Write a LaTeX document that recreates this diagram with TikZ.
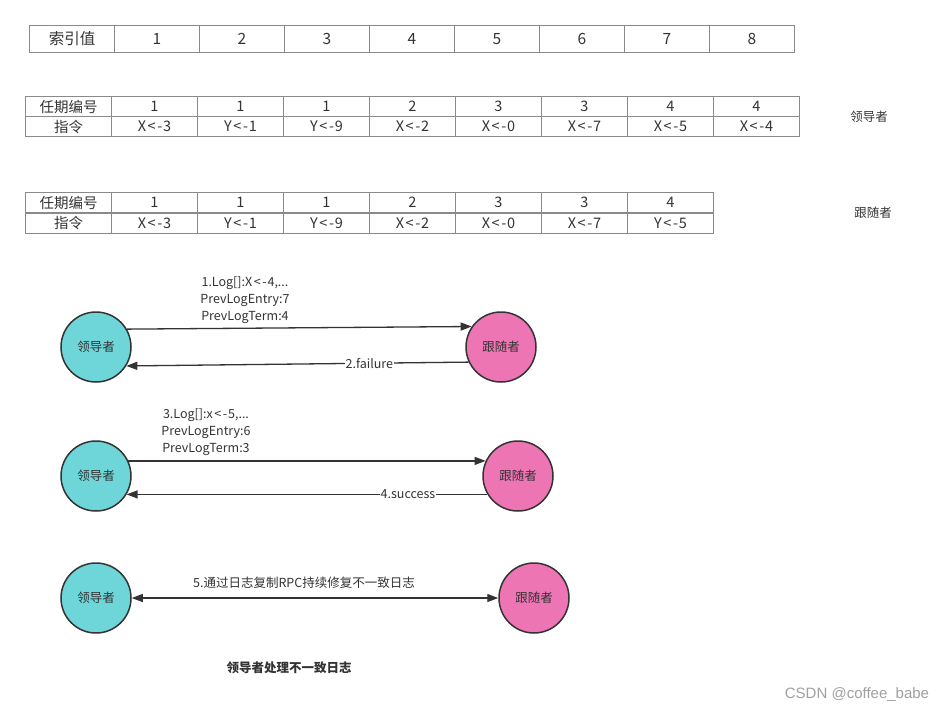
\documentclass[tikz,border=0pt]{standalone}
\usepackage{fontspec}
\setmainfont{Noto Sans CJK SC}
\newfontfamily\wmfont{Liberation Sans}
\usetikzlibrary{arrows.meta}
\definecolor{leadc}{HTML}{6ED6D8}
\definecolor{follc}{HTML}{EE75B4}
\definecolor{gridc}{HTML}{8A8A8A}
\definecolor{inkc}{HTML}{333333}
\definecolor{markc}{HTML}{A0A0A0}
\newcommand{\assign}[2]{#1\kern1.6pt<\kern1.6pt-\kern0.8pt#2}
\begin{document}
\begin{tikzpicture}[x=1pt,y=-1pt,
  cell/.style={draw=gridc, line width=1pt, inner sep=0pt, anchor=north west, text=inkc},
  idxcell/.style={cell, minimum width=85pt, minimum height=27pt, font=\fontsize{15.5}{15.5}\selectfont},
  logcell/.style={cell, minimum width=86pt, minimum height=20pt, font=\fontsize{14.5}{14.5}\selectfont},
  role/.style={circle, draw=inkc, line width=1.5pt, minimum size=70pt, inner sep=0pt, text=inkc, font=\fontsize{12.5}{12.5}\selectfont},
  leader/.style={role, fill=leadc},
  follower/.style={role, fill=follc},
  arr/.style={draw=inkc, line width=1.3pt, -{Triangle[length=11pt,width=8pt]}},
  darr/.style={draw=inkc, line width=1.3pt, {Triangle[length=11pt,width=8pt]}-{Triangle[length=11pt,width=8pt]}},
  lab/.style={text=inkc, font=\fontsize{12.5}{17}\selectfont, align=center, inner sep=1pt},
  side/.style={text=inkc, font=\fontsize{12.5}{12.5}\selectfont}
]
\useasboundingbox (0,0) rectangle (948,713);

% index table
\node[idxcell] (ih) at (29,25) {索引值};
\foreach \i in {1,...,8} {
  \node[idxcell] (i\i) at ({29+85*\i},25) {\i};
}

% leader log
\node[logcell] (lt0) at (25,96) {任期编号};
\node[logcell] (lc0) at (25,116) {指令};
\foreach \t [count=\i] in {1,1,1,2,3,3,4,4} {
  \node[logcell] (lt\i) at ({25+86*\i},96) {\t};
}
\foreach \v/\n [count=\i] in {X/3,Y/1,Y/9,X/2,X/0,X/7,X/5,X/4} {
  \node[logcell] (lc\i) at ({25+86*\i},116) {\assign{\v}{\n}};
}
\node[side] (lname) at (869,117) {领导者};

% follower log
\node[logcell] (ft0) at (25,192) {任期编号};
\node[logcell] (fc0) at (25,212.5) {指令};
\foreach \t [count=\i] in {1,1,1,2,3,3,4} {
  \node[logcell] (ft\i) at ({25+86*\i},192) {\t};
}
\foreach \v/\n [count=\i] in {X/3,Y/1,Y/9,X/2,X/0,X/7,Y/5} {
  \node[logcell] (fc\i) at ({25+86*\i},212.5) {\assign{\v}{\n}};
}
\node[side] (fname) at (873,213) {跟随者};

% exchange 1
\node[leader] (l1) at (96,347) {领导者};
\node[follower] (f1) at (501,347) {跟随者};
\draw[arr] (l1.30) -- (f1.145);
\draw[arr] (f1.205) -- (l1.-32) node[lab, pos=0.29, fill=white] (m2) {2.failure};
\node[lab] (m1) at (245,300) {1.Log[]:\assign{X}{4},...\\PrevLogEntry:7\\PrevLogTerm:4};

% exchange 2
\node[leader] (l2) at (96,476) {领导者};
\node[follower] (f2) at (518,476) {跟随者};
\draw[arr] (l2.25) -- (f2.155);
\draw[arr] (f2.211) -- (l2.-31) node[lab, pos=0.22, fill=white] (m4) {4.success};
\node[lab] (m3) at (206,432) {3.Log[]:\assign{x}{5},...\\PrevLogEntry:6\\PrevLogTerm:3};

% exchange 3
\node[leader] (l3) at (96,598) {领导者};
\node[follower] (f3) at (534,598) {跟随者};
\draw[darr] (l3.east) -- (f3.west);
\node[lab] (m5) at (304,583) {5.通过日志复制RPC持续修复不一致日志};

\node[text=inkc, font=\fontsize{12.5}{12.5}\selectfont\bfseries] (title) at (289,668) {领导者处理不一致日志};
\node[text=markc, font=\wmfont\fontsize{15}{15}\selectfont] (wm) at (857,695) {CSDN @coffee\_babe};
\end{tikzpicture}
\end{document}
